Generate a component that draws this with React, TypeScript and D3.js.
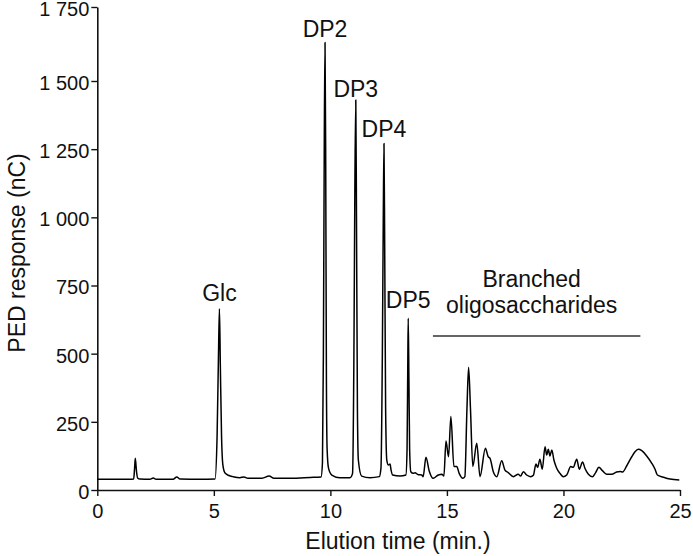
import React, { useEffect, useRef } from 'react';
import * as d3 from 'd3';

// elution time (min) and PED response (nC)
const times = [
  0, 1.40, 1.56, 1.60, 1.63, 1.68, 1.73, 1.83, 2.26, 2.40, 2.52, 3.25, 3.41, 3.55, 4.41,
  5.05, 5.14, 5.20, 5.24, 5.28, 5.33, 5.39, 5.48, 5.65, 5.82, 6.12, 6.29, 6.46, 7.07, 7.37, 7.58, 8.27, 9.13,
  9.60, 9.66, 9.70, 9.74, 9.77, 9.80, 9.83, 9.86, 9.92, 10.06, 10.41, 10.84,
  10.95, 11.01, 11.05, 11.09, 11.12, 11.16, 11.20, 11.34, 11.70, 12.10,
  12.17, 12.23, 12.27, 12.30, 12.33, 12.37, 12.42, 12.49, 12.56, 12.60, 12.67, 12.99, 13.24,
  13.29, 13.32, 13.34, 13.37, 13.40, 13.45, 13.56, 13.63, 13.77, 13.92, 13.98, 14.10, 14.24,
  14.41, 14.63, 14.78, 14.87, 14.96, 15.07, 15.17, 15.30, 15.42, 15.53, 15.68, 15.77, 15.86,
  15.93, 16.01, 16.11, 16.28, 16.42, 16.65, 16.77, 16.85, 16.99, 17.14, 17.35, 17.49, 17.63,
  17.85, 18.06, 18.16, 18.28, 18.42, 18.59, 18.71, 18.82, 18.89, 18.99, 19.09, 19.21, 19.28,
  19.35, 19.42, 19.50, 19.59, 19.71, 19.85, 19.99, 20.14, 20.31, 20.42, 20.57, 20.68, 20.82,
  20.92, 21.07, 21.25, 21.38, 21.52, 21.67, 21.85, 22.07, 22.28, 22.43, 22.54, 22.71, 22.93,
  23.07, 23.21, 23.36, 23.57, 23.79, 23.93, 24.03, 24.28, 24.57, 24.97
];
const response = [
  39, 39, 40, 80, 116, 70, 44, 40, 39, 44, 39, 39, 48, 40, 39,
  40, 200, 500, 665, 450, 200, 90, 62, 53, 49, 45, 48, 43, 43, 51, 43, 43, 46,
  48, 100, 500, 1300, 1630, 1200, 400, 150, 80, 55, 45, 45,
  60, 500, 1100, 1430, 1000, 300, 110, 51, 45, 49,
  80, 500, 1000, 1271, 900, 300, 110, 92, 95, 75, 55, 51, 55,
  150, 450, 630, 400, 150, 67, 61, 63, 56, 55, 49, 120, 70,
  43, 55, 58, 51, 180, 122, 270, 86, 86, 60, 43, 49, 300,
  450, 300, 86, 171, 49, 153, 122, 116, 67, 49, 107, 73, 64,
  49, 58, 51, 67, 55, 49, 54, 95, 83, 113, 76, 159, 128,
  149, 125, 147, 110, 80, 61, 49, 55, 86, 83, 113, 76, 103,
  80, 58, 49, 64, 83, 71, 58, 58, 66, 68, 66, 88, 122,
  140, 149, 144, 125, 98, 76, 55, 47, 40, 37
];

const yTicks = [0, 250, 500, 750, 1000, 1250, 1500, 1750];
const xTicks = [0, 5, 10, 15, 20, 25];

// peak labels: text, time, baseline level (nC)
const peakLabels = ['Glc', 'DP2', 'DP3', 'DP4', 'DP5'];
const peakTimes = [5.24, 9.77, 11.09, 12.30, 13.34];
const peakLabelLevels = [693, 1649, 1441, 1294, 667];

const branchedLines = ['Branched', 'oligosaccharides'];
const branchedRange = [14.4, 23.3];
const branchedLevel = 565;

const App = () => {
  const svgRef = useRef<SVGSVGElement>(null);

  useEffect(() => {
    const svg = d3.select(svgRef.current);
    svg.selectAll('*').remove();
    const font = '"Liberation Sans", Arial, sans-serif';
    const ink = '#111';

    const x = d3.scaleLinear().domain([0, 25]).range([97.3, 680]);
    // the top tick sits a little above an even step in the original
    const y = d3.scaleLinear().domain([0, 1500, 1750]).range([490, 81, 7]);

    const fmt = d3.formatLocale({ decimal: '.', thousands: ' ', grouping: [3], currency: ['', ''] }).format(',');

    const yAxis = svg.append('g').attr('transform', 'translate(97.3,0)')
      .call(d3.axisLeft(y).tickValues(yTicks).tickFormat(d => fmt(d as number)).tickSize(6).tickSizeOuter(0).tickPadding(2));
    yAxis.selectAll('.tick text').attr('dy', '0.42em');
    const xAxis = svg.append('g').attr('transform', 'translate(0,490)')
      .call(d3.axisBottom(x).tickValues(xTicks).tickSize(6).tickSizeOuter(0).tickPadding(8));
    [yAxis, xAxis].forEach(a => {
      a.attr('font-family', font).attr('font-size', 20);
      a.select('.domain').attr('stroke', ink).attr('stroke-width', 1.6);
      a.selectAll('.tick line').attr('stroke', ink).attr('stroke-width', 1.4);
      a.selectAll('.tick text').attr('fill', ink);
    });

    const pts = times.map((t, i) => [t, response[i]] as [number, number]);
    const line = d3.line<[number, number]>().x(d => x(d[0])).y(d => y(d[1])).curve(d3.curveMonotoneX);
    svg.append('path').datum(pts).attr('fill', 'none').attr('stroke', '#000')
      .attr('stroke-width', 1.5).attr('stroke-linejoin', 'round').attr('d', line);

    svg.append('g').selectAll('text').data(peakLabels).join('text')
      .attr('x', (d, i) => x(peakTimes[i])).attr('y', (d, i) => y(peakLabelLevels[i]))
      .attr('text-anchor', 'middle').attr('font-family', font).attr('font-size', 23).attr('fill', ink)
      .text(d => d);

    const by = y(branchedLevel);
    svg.append('line').attr('x1', x(branchedRange[0])).attr('x2', x(branchedRange[1]))
      .attr('y1', by).attr('y2', by).attr('stroke', '#333').attr('stroke-width', 1.4);
    const bx = (x(branchedRange[0]) + x(branchedRange[1])) / 2 - 5;
    svg.append('g').selectAll('text').data(branchedLines).join('text')
      .attr('x', bx).attr('y', (d, i) => by - 49 + i * 26.5)
      .attr('text-anchor', 'middle').attr('font-family', font).attr('font-size', 23).attr('fill', ink)
      .text(d => d);

    svg.append('text').attr('transform', 'translate(24.5,253) rotate(-90)')
      .attr('text-anchor', 'middle').attr('font-family', font).attr('font-size', 23).attr('fill', ink)
      .text('PED response (nC)');
    svg.append('text').attr('x', 398).attr('y', 549)
      .attr('text-anchor', 'middle').attr('font-family', font).attr('font-size', 23).attr('fill', ink)
      .text('Elution time (min.)');
  }, []);

  return (
    <svg ref={svgRef} width={693} height={556}
      style={{ position: 'absolute', left: 0, top: 0, background: '#fff' }} />
  );
};

export default App;
